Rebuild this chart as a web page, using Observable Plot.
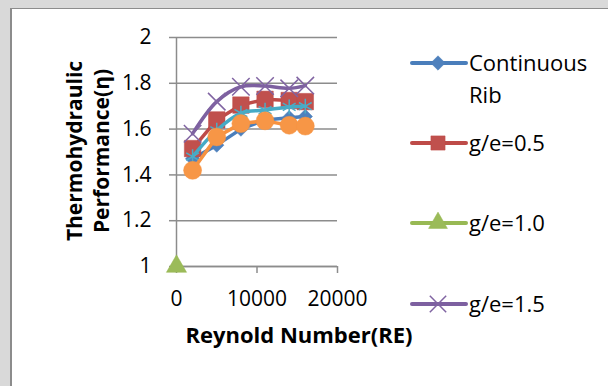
<!DOCTYPE html>
<html>
<head>
<meta charset="utf-8">
<script src="https://cdn.jsdelivr.net/npm/d3@7"></script>
<script src="https://cdn.jsdelivr.net/npm/@observablehq/plot@0.6"></script>
<style>
  html, body { margin: 0; padding: 0; background: #d9d9d9; }
  #wrap { position: relative; width: 608px; height: 386px; overflow: hidden; font-family: "Open Sans", sans-serif; }
  #panel { position: absolute; left: 10px; top: 8px; right: -10px; bottom: -10px; background: #fff;
           border-left: 2px solid #8c8c8c; border-top: 1px solid #8c8c8c; }
  #chart, #legend { position: absolute; left: 0; top: 0; }
</style>
</head>
<body>
<div id="wrap">
  <div id="panel"></div>
  <div id="chart"></div>
  <svg id="legend" width="608" height="386"></svg>
</div>
<script>
// ---- data ----
const reynolds = [2000, 5000, 8000, 11000, 14000, 16000];
const continuousRib = [1.47, 1.53, 1.60, 1.64, 1.65, 1.655];
const ge05 = [1.515, 1.64, 1.705, 1.73, 1.725, 1.72];
const ge10Reynolds = [0];
const ge10 = [1.0];
const ge15 = [1.58, 1.72, 1.785, 1.788, 1.778, 1.79];
const ge20 = [1.48, 1.595, 1.67, 1.683, 1.697, 1.70];
const ge25 = [1.42, 1.566, 1.624, 1.636, 1.617, 1.613];

const xTicks = [0, 10000, 20000];
const yTicks = [1, 1.2, 1.4, 1.6, 1.8, 2];
const legendLabels = ["Continuous\nRib", "g/e=0.5", "g/e=1.0", "g/e=1.5"];

const colors = {
  blue: ["#4A7EBB", "#4F81BD"],
  red: ["#BE4B48", "#C0504D"],
  green: ["#98B954", "#9BBB59"],
  purple: ["#7D60A0", "#8064A2"],
  teal: ["#46AAC5", "#4BACC6"],
  orange: ["#F69240", "#F79646"]
};

const rows = (xs, ys) => xs.map((x, i) => ({x, y: ys[i]}));
const dBlue = rows(reynolds, continuousRib);
const dRed = rows(reynolds, ge05);
const dGreen = rows(ge10Reynolds, ge10);
const dPurple = rows(reynolds, ge15);
const dTeal = rows(reynolds, ge20);
const dOrange = rows(reynolds, ge25);

const LW = 3.5;
const chart = Plot.plot({
  width: 608,
  height: 386,
  marginLeft: 176,
  marginRight: 271,
  marginTop: 37,
  marginBottom: 120,
  style: { background: "transparent", fontFamily: "Open Sans", fontSize: "21px", color: "#000", overflow: "visible" },
  x: { domain: [0, 20000] },
  y: { domain: [1, 2] },
  marks: [
    Plot.gridY(yTicks, { stroke: "#8c8c8c", strokeOpacity: 1, strokeWidth: 1.5 }),
    Plot.axisY(yTicks, { tickSize: 7, tickPadding: 18, stroke: "#8c8c8c", strokeWidth: 1.5,
                          tickFormat: d => String(+d.toFixed(1)), label: null, fill: "#000" }),
    Plot.axisX(xTicks, { tickSize: 7, tickPadding: 18, stroke: "#8c8c8c", strokeWidth: 1.5,
                          tickFormat: d => String(d), label: null, fill: "#000" }),
    Plot.ruleX([0], { stroke: "#8c8c8c", strokeWidth: 1.5 }),
    Plot.ruleY([1], { stroke: "#8c8c8c", strokeWidth: 1.5 }),
    Plot.text(["Thermohydraulic\nPerformance(η)"], { frameAnchor: "left", textAnchor: "middle", dx: -90, dy: -1, rotate: -90,
               fontWeight: "bold", fontSize: 21, lineHeight: 1.3, fill: "#000" }),
    Plot.text(["Reynold Number(RE)"], { frameAnchor: "bottom", dx: 42, dy: 76,
               fontWeight: "bold", fontSize: 22, fill: "#000" }),
    // Continuous Rib
    Plot.line(dBlue, { x: "x", y: "y", stroke: colors.blue[0], strokeWidth: LW }),
    Plot.dot(dBlue, { x: "x", y: "y", symbol: "diamond2", r: 6.5, fill: colors.blue[1], stroke: colors.blue[0], strokeWidth: 0.5 }),
    // g/e = 0.5
    Plot.line(dRed, { x: "x", y: "y", stroke: colors.red[0], strokeWidth: LW }),
    Plot.dot(dRed, { x: "x", y: "y", symbol: "square", r: 9.3, fill: colors.red[1], stroke: colors.red[0], strokeWidth: 0.5 }),
    // g/e = 1.0
    Plot.dot(dGreen, { x: "x", y: "y", symbol: "triangle", r: 7.5, fill: colors.green[1], stroke: colors.green[0], strokeWidth: 0.5 }),
    // g/e = 1.5
    Plot.line(dPurple, { x: "x", y: "y", stroke: colors.purple[0], strokeWidth: LW, curve: "catmull-rom" }),
    Plot.dot(dPurple, { x: "x", y: "y", symbol: "times", r: 8, stroke: colors.purple[1], strokeWidth: 1.5 }),
    // teal series
    Plot.line(dTeal, { x: "x", y: "y", stroke: colors.teal[0], strokeWidth: LW, curve: "catmull-rom" }),
    Plot.dot(dTeal, { x: "x", y: "y", symbol: "asterisk", r: 7, stroke: colors.teal[1], strokeWidth: 1.5 }),
    // orange series
    Plot.line(dOrange, { x: "x", y: "y", stroke: colors.orange[0], strokeWidth: LW }),
    Plot.dot(dOrange, { x: "x", y: "y", symbol: "circle", r: 9, fill: colors.orange[1], stroke: colors.orange[0], strokeWidth: 0.5 })
  ]
});
document.getElementById("chart").appendChild(chart);

// ---- legend (first four series, as in the reference) ----
const legendItems = [
  { label: legendLabels[0], c: colors.blue, sym: d3.symbolDiamond2, size: Math.PI * 6.5 * 6.5, y: 63, filled: true },
  { label: legendLabels[1], c: colors.red, sym: d3.symbolSquare, size: Math.PI * 8 * 8, y: 143, filled: true },
  { label: legendLabels[2], c: colors.green, sym: d3.symbolTriangle, size: Math.PI * 7 * 7, y: 223, filled: true },
  { label: legendLabels[3], c: colors.purple, sym: d3.symbolTimes, size: Math.PI * 7.5 * 7.5, y: 304, filled: false }
];
const lg = d3.select("#legend");
for (const it of legendItems) {
  const g = lg.append("g");
  g.append("line").attr("x1", 412).attr("x2", 466).attr("y1", it.y).attr("y2", it.y)
    .attr("stroke", it.c[0]).attr("stroke-width", 4).attr("stroke-linecap", "round");
  g.append("path").attr("d", d3.symbol(it.sym, it.size)())
    .attr("transform", `translate(438,${it.y})`)
    .attr("fill", it.filled ? it.c[1] : "none")
    .attr("stroke", it.filled ? it.c[0] : it.c[1])
    .attr("stroke-width", it.filled ? 0.5 : 1.5);
  const lines = it.label.split("\n");
  const t = g.append("text").attr("x", 469).attr("y", it.y)
    .attr("font-family", "Open Sans").attr("font-size", 22).attr("fill", "#000");
  lines.forEach((s, i) => t.append("tspan").attr("x", 469).attr("dy", i === 0 ? "0.36em" : "1.45em").text(s));
}
</script>
</body>
</html>
